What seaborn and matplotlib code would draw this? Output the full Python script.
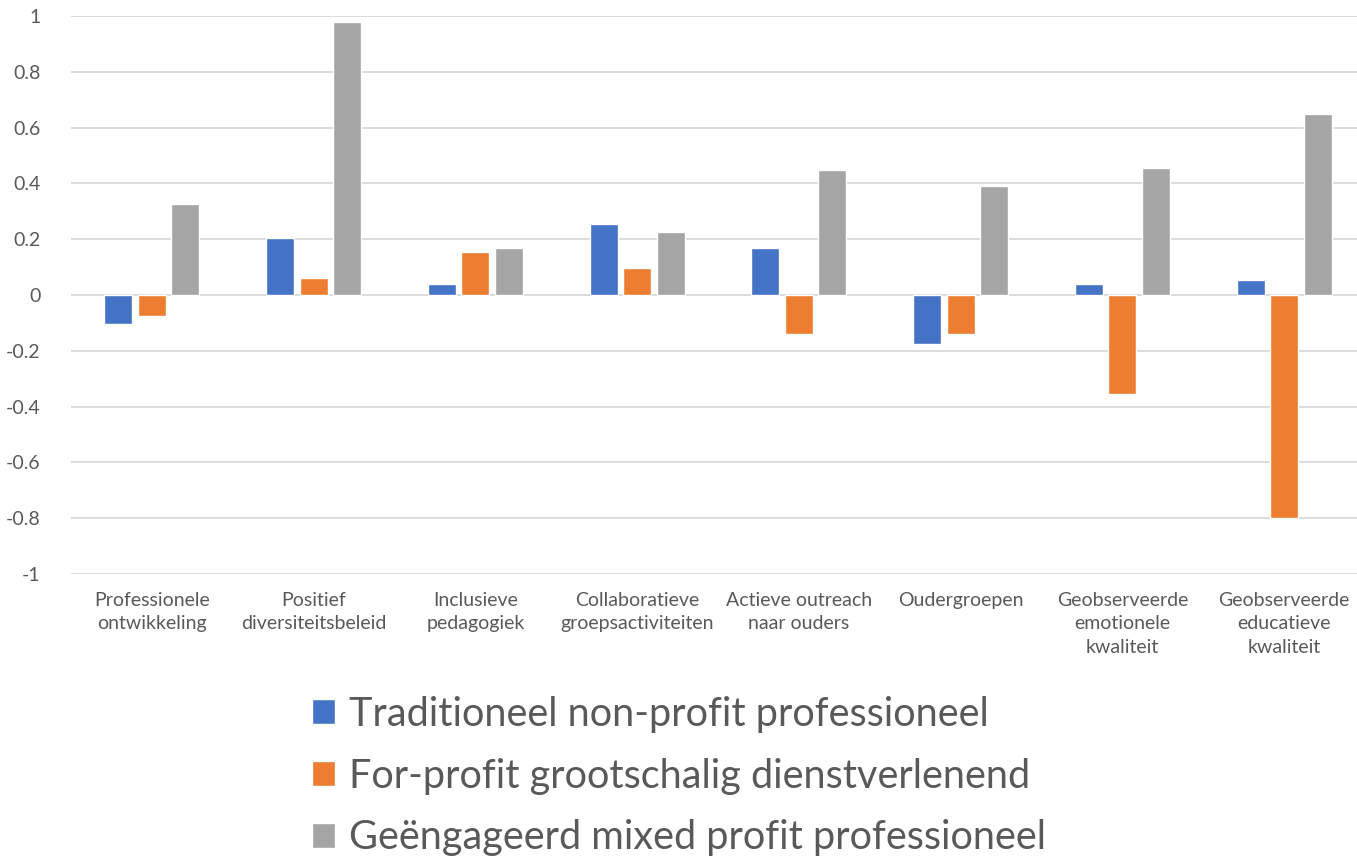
import pandas as pd
import matplotlib.pyplot as plt
import seaborn as sns

# categorieen en waarden per type
categories = [
    'Professionele\nontwikkeling',
    'Positief\ndiversiteitsbeleid',
    'Inclusieve\npedagogiek',
    'Collaboratieve\ngroepsactiviteiten',
    'Actieve outreach\nnaar ouders',
    'Oudergroepen',
    'Geobserveerde\nemotionele\nkwaliteit',
    'Geobserveerde\neducatieve\nkwaliteit',
]
series_names = [
    'Traditioneel non-profit professioneel',
    'For-profit grootschalig dienstverlenend',
    'Geëngageerd mixed profit professioneel',
]
traditioneel = [-0.103, 0.204, 0.039, 0.254, 0.168, -0.174, 0.039, 0.054]
for_profit = [-0.074, 0.061, 0.154, 0.097, -0.139, -0.139, -0.354, -0.798]
mixed = [0.326, 0.978, 0.168, 0.226, 0.448, 0.390, 0.455, 0.649]
y_ticks = [-1, -0.8, -0.6, -0.4, -0.2, 0, 0.2, 0.4, 0.6, 0.8, 1]
y_tick_labels = ['-1', '-0.8', '-0.6', '-0.4', '-0.2', '0', '0.2', '0.4', '0.6', '0.8', '1']

colors = ['#4472c4', '#ed7d31', '#a5a5a5']
text_color = '#595959'

df = pd.DataFrame({'Categorie': categories * 3,
                   'Type': [s for s in series_names for _ in categories],
                   'Waarde': traditioneel + for_profit + mixed})

sns.set_style('white')
plt.rcParams['font.family'] = ['Lato', 'DejaVu Sans']

fig = plt.figure(figsize=(13.57, 8.58), dpi=100)
ax = fig.add_axes([71 / 1357, 1 - 574 / 858, (1365 - 71) / 1357, (574 - 16) / 858])

sns.barplot(data=df, x='Categorie', y='Waarde', hue='Type', palette=colors,
            width=0.62, gap=0.16, saturation=1, ax=ax, legend=True)

ax.set_ylim(-1, 1)
ax.set_yticks(y_ticks)
ax.set_yticklabels(y_tick_labels)
ax.set_xlabel('')
ax.set_ylabel('')
ax.grid(axis='y', color='#d9d9d9', linewidth=1.3)
ax.set_axisbelow(True)
for side in ax.spines.values():
    side.set_visible(False)
ax.tick_params(axis='y', length=0, pad=22, labelsize=14, labelcolor=text_color)
ax.tick_params(axis='x', length=0, pad=13, labelsize=14, labelcolor=text_color)
for lbl in ax.get_yticklabels():
    lbl.set_horizontalalignment('right')
for lbl in ax.get_xticklabels():
    lbl.set_linespacing(1.45)

handles, labels = ax.get_legend_handles_labels()
ax.get_legend().remove()
fig.legend(handles, labels, loc='upper left', bbox_to_anchor=(276 / 1357, 1 - 660 / 858),
           frameon=False, fontsize=28.5, labelcolor=text_color,
           handlelength=0.6, handleheight=0.6, handletextpad=0.35, labelspacing=0.63)

fig.savefig('out.png', dpi=100)
